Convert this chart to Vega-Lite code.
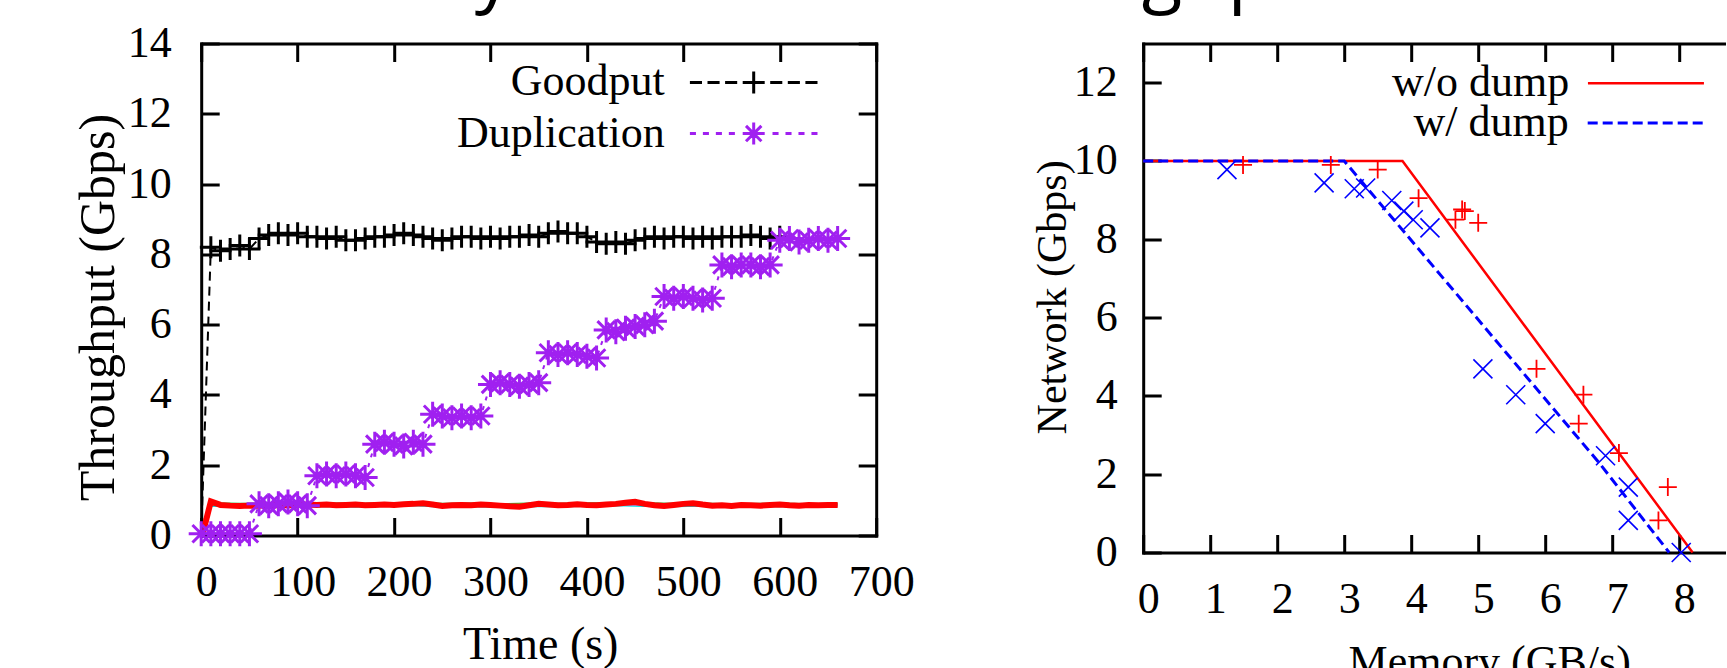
{
  "$schema": "https://vega.github.io/schema/vega-lite/v6.json",
  "autosize": {"type": "pad"},
  "padding": {"left": 72.2, "top": -62.5, "right": -1.4, "bottom": -17.7},
  "background": "white",
  "title": {"text": "Memory vs. network throughput", "font": "Open Sans", "fontSize": 74.5, "fontWeight": "normal", "color": "black", "anchor": "start", "frame": "group", "baseline": "alphabetic", "offset": -51.3, "dx": 20.5},
  "config": {
    "view": {"stroke": null},
    "axis": {"grid": false, "labelFont": "Liberation Serif", "titleFont": "Liberation Serif", "labelFontSize": 44, "titleFontSize": 44, "labelColor": "black", "titleColor": "black", "titleFontWeight": "normal", "domainColor": "black", "domainWidth": 3, "domainCap": "square", "tickColor": "black", "tickWidth": 3, "tickSize": -18, "labelFlush": false, "labelOverlap": false},
    "legend": {"labelFont": "Liberation Serif", "labelFontSize": 44, "labelColor": "black", "padding": 0, "rowPadding": 0, "labelLimit": 0}
  },
  "datasets": {
    "under": [
      {"s":"a","t":2,"v":0.1},{"s":"a","t":10,"v":0.92},{"s":"a","t":40,"v":0.9},{"s":"a","t":70,"v":0.91},{"s":"a","t":100,"v":0.9},{"s":"a","t":130,"v":0.92},{"s":"a","t":160,"v":0.9},{"s":"a","t":190,"v":0.91},{"s":"a","t":220,"v":0.93},{"s":"a","t":250,"v":0.9},{"s":"a","t":280,"v":0.91},{"s":"a","t":310,"v":0.89},{"s":"a","t":340,"v":0.91},{"s":"a","t":370,"v":0.9},{"s":"a","t":400,"v":0.92},{"s":"a","t":430,"v":0.92},{"s":"a","t":460,"v":0.92},{"s":"a","t":490,"v":0.9},{"s":"a","t":520,"v":0.91},{"s":"a","t":550,"v":0.89},{"s":"a","t":580,"v":0.9},{"s":"a","t":610,"v":0.9},{"s":"a","t":640,"v":0.89},{"s":"a","t":660,"v":0.9},
      {"s":"b","t":2,"v":0.08},{"s":"b","t":10,"v":0.85},{"s":"b","t":40,"v":0.82},{"s":"b","t":70,"v":0.83},{"s":"b","t":100,"v":0.84},{"s":"b","t":130,"v":0.83},{"s":"b","t":160,"v":0.82},{"s":"b","t":190,"v":0.84},{"s":"b","t":220,"v":0.86},{"s":"b","t":250,"v":0.82},{"s":"b","t":280,"v":0.83},{"s":"b","t":310,"v":0.81},{"s":"b","t":340,"v":0.84},{"s":"b","t":370,"v":0.83},{"s":"b","t":400,"v":0.84},{"s":"b","t":430,"v":0.86},{"s":"b","t":460,"v":0.84},{"s":"b","t":490,"v":0.83},{"s":"b","t":520,"v":0.85},{"s":"b","t":550,"v":0.82},{"s":"b","t":580,"v":0.83},{"s":"b","t":610,"v":0.84},{"s":"b","t":640,"v":0.82},{"s":"b","t":660,"v":0.83},
      {"s":"c","t":2,"v":0.1},{"s":"c","t":10,"v":0.9},{"s":"c","t":40,"v":0.86},{"s":"c","t":70,"v":0.88},{"s":"c","t":100,"v":0.87},{"s":"c","t":130,"v":0.89},{"s":"c","t":160,"v":0.86},{"s":"c","t":190,"v":0.88},{"s":"c","t":220,"v":0.9},{"s":"c","t":250,"v":0.85},{"s":"c","t":280,"v":0.87},{"s":"c","t":310,"v":0.86},{"s":"c","t":340,"v":0.88},{"s":"c","t":370,"v":0.87},{"s":"c","t":400,"v":0.89},{"s":"c","t":430,"v":0.9},{"s":"c","t":460,"v":0.88},{"s":"c","t":490,"v":0.87},{"s":"c","t":520,"v":0.89},{"s":"c","t":550,"v":0.86},{"s":"c","t":580,"v":0.87},{"s":"c","t":610,"v":0.88},{"s":"c","t":640,"v":0.87},{"s":"c","t":660,"v":0.87},
      {"s":"d","t":2,"v":0.12},{"s":"d","t":10,"v":0.88},{"s":"d","t":40,"v":0.85},{"s":"d","t":70,"v":0.86},{"s":"d","t":100,"v":0.88},{"s":"d","t":130,"v":0.86},{"s":"d","t":160,"v":0.87},{"s":"d","t":190,"v":0.86},{"s":"d","t":220,"v":0.89},{"s":"d","t":250,"v":0.86},{"s":"d","t":280,"v":0.88},{"s":"d","t":310,"v":0.85},{"s":"d","t":340,"v":0.87},{"s":"d","t":370,"v":0.86},{"s":"d","t":400,"v":0.88},{"s":"d","t":430,"v":0.89},{"s":"d","t":460,"v":0.87},{"s":"d","t":490,"v":0.86},{"s":"d","t":520,"v":0.88},{"s":"d","t":550,"v":0.85},{"s":"d","t":580,"v":0.86},{"s":"d","t":610,"v":0.87},{"s":"d","t":640,"v":0.86},{"s":"d","t":660,"v":0.86},
      {"s":"e","t":2,"v":0.05},{"s":"e","t":10,"v":0.86},{"s":"e","t":40,"v":0.88},{"s":"e","t":70,"v":0.87},{"s":"e","t":100,"v":0.86},{"s":"e","t":130,"v":0.88},{"s":"e","t":160,"v":0.87},{"s":"e","t":190,"v":0.89},{"s":"e","t":220,"v":0.88},{"s":"e","t":250,"v":0.87},{"s":"e","t":280,"v":0.86},{"s":"e","t":310,"v":0.88},{"s":"e","t":340,"v":0.86},{"s":"e","t":370,"v":0.88},{"s":"e","t":400,"v":0.87},{"s":"e","t":430,"v":0.88},{"s":"e","t":460,"v":0.89},{"s":"e","t":490,"v":0.88},{"s":"e","t":520,"v":0.87},{"s":"e","t":550,"v":0.88},{"s":"e","t":580,"v":0.87},{"s":"e","t":610,"v":0.86},{"s":"e","t":640,"v":0.88},{"s":"e","t":660,"v":0.88}
    ],
    "red": [
      {"t":2,"v":0.1},{"t":10,"v":0.97},{"t":20,"v":0.87},{"t":30,"v":0.85},{"t":40,"v":0.84},{"t":50,"v":0.85},{"t":60,"v":0.85},{"t":70,"v":0.86},{"t":80,"v":0.87},{"t":90,"v":0.86},{"t":100,"v":0.87},{"t":110,"v":0.88},{"t":120,"v":0.87},{"t":130,"v":0.88},{"t":140,"v":0.86},{"t":150,"v":0.87},{"t":160,"v":0.88},{"t":170,"v":0.86},{"t":180,"v":0.87},{"t":190,"v":0.88},{"t":200,"v":0.87},{"t":210,"v":0.89},{"t":220,"v":0.9},{"t":230,"v":0.92},{"t":240,"v":0.88},{"t":250,"v":0.84},{"t":260,"v":0.86},{"t":270,"v":0.87},{"t":280,"v":0.86},{"t":290,"v":0.88},{"t":300,"v":0.87},{"t":310,"v":0.85},{"t":320,"v":0.83},{"t":330,"v":0.82},{"t":340,"v":0.86},{"t":350,"v":0.9},{"t":360,"v":0.88},{"t":370,"v":0.86},{"t":380,"v":0.87},{"t":390,"v":0.89},{"t":400,"v":0.87},{"t":410,"v":0.86},{"t":420,"v":0.88},{"t":430,"v":0.9},{"t":440,"v":0.93},{"t":450,"v":0.96},{"t":460,"v":0.9},{"t":470,"v":0.86},{"t":480,"v":0.84},{"t":490,"v":0.87},{"t":500,"v":0.9},{"t":510,"v":0.92},{"t":520,"v":0.88},{"t":530,"v":0.85},{"t":540,"v":0.86},{"t":550,"v":0.84},{"t":560,"v":0.87},{"t":570,"v":0.86},{"t":580,"v":0.85},{"t":590,"v":0.87},{"t":600,"v":0.88},{"t":610,"v":0.86},{"t":620,"v":0.85},{"t":630,"v":0.87},{"t":640,"v":0.86},{"t":650,"v":0.87},{"t":660,"v":0.87}
    ],
    "goodput": [
      {"t":0,"v":0},{"t":10,"v":8.2},{"t":20,"v":8.1},{"t":30,"v":8.15},{"t":40,"v":8.25},{"t":50,"v":8.15},{"t":60,"v":8.45},{"t":70,"v":8.55},{"t":80,"v":8.6},{"t":90,"v":8.55},{"t":100,"v":8.6},{"t":110,"v":8.5},{"t":120,"v":8.5},{"t":130,"v":8.45},{"t":140,"v":8.5},{"t":150,"v":8.4},{"t":160,"v":8.4},{"t":170,"v":8.45},{"t":180,"v":8.5},{"t":190,"v":8.5},{"t":200,"v":8.55},{"t":210,"v":8.6},{"t":220,"v":8.55},{"t":230,"v":8.5},{"t":240,"v":8.45},{"t":250,"v":8.4},{"t":260,"v":8.45},{"t":270,"v":8.5},{"t":280,"v":8.5},{"t":290,"v":8.45},{"t":300,"v":8.5},{"t":310,"v":8.45},{"t":320,"v":8.5},{"t":330,"v":8.5},{"t":340,"v":8.55},{"t":350,"v":8.5},{"t":360,"v":8.6},{"t":370,"v":8.65},{"t":380,"v":8.6},{"t":390,"v":8.6},{"t":400,"v":8.5},{"t":410,"v":8.35},{"t":420,"v":8.3},{"t":430,"v":8.35},{"t":440,"v":8.3},{"t":450,"v":8.4},{"t":460,"v":8.45},{"t":470,"v":8.5},{"t":480,"v":8.45},{"t":490,"v":8.5},{"t":500,"v":8.5},{"t":510,"v":8.45},{"t":520,"v":8.5},{"t":530,"v":8.45},{"t":540,"v":8.5},{"t":550,"v":8.5},{"t":560,"v":8.5},{"t":570,"v":8.55},{"t":580,"v":8.5},{"t":590,"v":8.45},{"t":600,"v":8.5}
    ],
    "dup": [
      {"t":0,"v":0.05},{"t":10,"v":0.05},{"t":20,"v":0.05},{"t":30,"v":0.05},{"t":40,"v":0.05},{"t":50,"v":0.05},
      {"t":60,"v":0.9},{"t":70,"v":0.85},{"t":80,"v":0.9},{"t":90,"v":0.95},{"t":100,"v":0.9},{"t":110,"v":0.85},
      {"t":120,"v":1.7},{"t":130,"v":1.75},{"t":140,"v":1.7},{"t":150,"v":1.75},{"t":160,"v":1.7},{"t":170,"v":1.65},
      {"t":180,"v":2.6},{"t":190,"v":2.65},{"t":200,"v":2.6},{"t":210,"v":2.55},{"t":220,"v":2.65},{"t":230,"v":2.6},
      {"t":240,"v":3.45},{"t":250,"v":3.4},{"t":260,"v":3.35},{"t":270,"v":3.4},{"t":280,"v":3.35},{"t":290,"v":3.4},
      {"t":300,"v":4.3},{"t":310,"v":4.35},{"t":320,"v":4.3},{"t":330,"v":4.25},{"t":340,"v":4.3},{"t":350,"v":4.35},
      {"t":360,"v":5.2},{"t":370,"v":5.15},{"t":380,"v":5.2},{"t":390,"v":5.15},{"t":400,"v":5.1},{"t":410,"v":5.05},
      {"t":420,"v":5.85},{"t":430,"v":5.8},{"t":440,"v":5.9},{"t":450,"v":5.95},{"t":460,"v":6.0},{"t":470,"v":6.1},
      {"t":480,"v":6.8},{"t":490,"v":6.75},{"t":500,"v":6.8},{"t":510,"v":6.75},{"t":520,"v":6.7},{"t":530,"v":6.75},
      {"t":540,"v":7.7},{"t":550,"v":7.65},{"t":560,"v":7.7},{"t":570,"v":7.7},{"t":580,"v":7.65},{"t":590,"v":7.7},
      {"t":600,"v":8.4},{"t":610,"v":8.45},{"t":620,"v":8.35},{"t":630,"v":8.4},{"t":640,"v":8.45},{"t":650,"v":8.4},{"t":660,"v":8.45}
    ],
    "wo_line": [{"m":0,"n":10},{"m":3.87,"n":10},{"m":8.2,"n":0}],
    "w_line": [{"m":0,"n":10},{"m":3.0,"n":10},{"m":6.8,"n":2.3},{"m":7.85,"n":0}],
    "wo_pts": [
      {"m":1.49,"n":9.9},{"m":2.8,"n":9.9},{"m":3.5,"n":9.78},{"m":4.11,"n":9.05},{"m":4.66,"n":8.5},{"m":4.76,"n":8.76},{"m":4.8,"n":8.72},{"m":5.0,"n":8.42},{"m":5.87,"n":4.69},{"m":6.57,"n":4.03},{"m":6.5,"n":3.29},{"m":7.1,"n":2.54},{"m":7.83,"n":1.67},{"m":7.69,"n":0.82}
    ],
    "w_pts": [
      {"m":1.25,"n":9.78},{"m":2.7,"n":9.44},{"m":3.15,"n":9.29},{"m":3.32,"n":9.31},{"m":3.71,"n":8.99},{"m":3.89,"n":8.72},{"m":4.03,"n":8.5},{"m":4.28,"n":8.29},{"m":5.07,"n":4.69},{"m":5.56,"n":4.03},{"m":6.0,"n":3.29},{"m":6.9,"n":2.47},{"m":7.24,"n":1.67},{"m":7.24,"n":0.82},{"m":8.03,"n":0.0}
    ]
  },
  "bounds": "flush",
  "spacing": 267,
  "hconcat": [
    {
      "width": 675,
      "height": 492,
      "resolve": {"scale": {"color": "independent"}},
      "layer": [
        {
          "data": {"name": "under"},
          "mark": {"type": "line", "strokeWidth": 2},
          "encoding": {
            "x": {"field": "t", "type": "quantitative", "scale": {"domain": [0, 700], "nice": false, "zero": false},
                  "axis": {"orient": "bottom", "values": [0,100,200,300,400,500,600,700], "title": "Time (s)", "titleFontSize": 46, "labelPadding": 43, "labelOffset": 5, "titleX": 339, "titleY": 123, "titleBaseline": "alphabetic"}},
            "y": {"field": "v", "type": "quantitative", "scale": {"domain": [0, 14], "nice": false, "zero": false},
                  "axis": {"orient": "left", "values": [0,2,4,6,8,10,12,14], "title": "Throughput (Gbps)", "titleFontSize": 50, "labelPadding": 48, "titleX": -103, "titleY": 263.5, "titleBaseline": "middle", "titleAngle": -90}},
            "color": {"field": "s", "type": "nominal", "scale": {"domain": ["a","b","c","d","e"], "range": ["#1FB030","#00E0E8","#F5D800","#FF30FF","#8A8A8A"]}, "legend": null}
          }
        },
        {
          "data": {"name": "red"},
          "mark": {"type": "line", "strokeWidth": 6, "color": "#FF0000"},
          "encoding": {
            "x": {"field": "t", "type": "quantitative", "axis": null},
            "y": {"field": "v", "type": "quantitative", "axis": null}
          }
        },
        {
          "data": {"name": "goodput"},
          "mark": {"type": "line", "strokeWidth": 2, "color": "black", "strokeDash": [9, 6]},
          "encoding": {
            "x": {"field": "t", "type": "quantitative", "axis": {"orient": "top", "values": [0,100,200,300,400,500,600,700], "labels": false, "title": null}},
            "y": {"field": "v", "type": "quantitative", "axis": {"orient": "right", "values": [0,2,4,6,8,10,12,14], "labels": false, "title": null}}
          }
        },
        {
          "data": {"name": "goodput"},
          "transform": [{"filter": "datum.t > 0"}],
          "mark": {"type": "point", "shape": "M-1,0H1M0,-1V1", "size": 484, "strokeWidth": 3, "filled": false, "opacity": 1},
          "encoding": {
            "x": {"field": "t", "type": "quantitative", "axis": null},
            "y": {"field": "v", "type": "quantitative", "axis": null},
            "color": {"datum": "Goodput", "type": "nominal", "scale": {"range": ["black"]},
                      "legend": {"orient": "none", "legendX": 530.5, "legendY": 17, "title": null, "symbolSize": 484, "symbolStrokeWidth": 3,
                                 "symbolType": "M-5.8,0H-4.7M-4.2,0H-3.1M-2.6,0H-1.5M-1,0H1M0,-1V1M1.5,0H2.6M3.1,0H4.2M4.7,0H5.8",
                                 "labelAlign": "right", "labelOffset": -111}}
          }
        },
        {
          "data": {"name": "dup"},
          "mark": {"type": "line", "strokeWidth": 2, "color": "#A020F0", "strokeDash": [4, 6]},
          "encoding": {
            "x": {"field": "t", "type": "quantitative", "axis": null},
            "y": {"field": "v", "type": "quantitative", "axis": null}
          }
        },
        {
          "data": {"name": "dup"},
          "mark": {"type": "point", "shape": "M-1,0H1M0,-1V1M-0.7,-0.7L0.7,0.7M-0.7,0.7L0.7,-0.7", "size": 625, "strokeWidth": 3, "filled": false, "opacity": 1},
          "encoding": {
            "x": {"field": "t", "type": "quantitative", "axis": null},
            "y": {"field": "v", "type": "quantitative", "axis": null},
            "color": {"datum": "Duplication", "type": "nominal", "scale": {"range": ["#A020F0"]},
                      "legend": {"orient": "none", "legendX": 530.5, "legendY": 68.1, "title": null, "symbolSize": 484, "symbolStrokeWidth": 3,
                                 "symbolType": "M-5.8,0H-5.25M-4.62,0H-4.07M-3.44,0H-2.89M-2.26,0H-1.71M-1,0H1M0,-1V1M-0.7,-0.7L0.7,0.7M-0.7,0.7L0.7,-0.7M1.71,0H2.26M2.89,0H3.44M4.07,0H4.62M5.25,0H5.8",
                                 "labelAlign": "right", "labelOffset": -111}}
          }
        }
      ]
    },
    {
      "width": 584,
      "height": 509,
      "resolve": {"scale": {"color": "independent"}, "axis": {"x": "independent", "y": "independent"}},
      "layer": [
        {
          "data": {"name": "wo_line"},
          "mark": {"type": "line", "strokeWidth": 2.5},
          "encoding": {
            "x": {"field": "m", "type": "quantitative", "scale": {"domain": [0, 8.716], "nice": false, "zero": false},
                  "axis": {"orient": "bottom", "values": [0,1,2,3,4,5,6,7,8], "title": "Memory (GB/s)", "labelPadding": 43, "labelOffset": 5, "titleX": 346, "titleY": 123.5, "titleBaseline": "alphabetic"}},
            "y": {"field": "n", "type": "quantitative", "scale": {"domain": [0, 13], "nice": false, "zero": false},
                  "axis": {"orient": "left", "values": [0,2,4,6,8,10,12], "title": "Network (Gbps)", "titleFontSize": 42, "labelPadding": 44, "titleX": -91, "titleY": 253.4, "titleBaseline": "middle", "titleAngle": -90}},
            "color": {"datum": "w/o dump", "type": "nominal", "scale": {"range": ["#FF0000"]},
                      "legend": {"orient": "none", "legendX": 480.75, "legendY": 17.75, "title": null, "symbolSize": 400, "symbolStrokeWidth": 2.5,
                                 "symbolType": "M-5.8,0H5.8", "labelAlign": "right", "labelOffset": -98.75}}
          }
        },
        {
          "data": {"name": "w_line"},
          "mark": {"type": "line", "strokeWidth": 3, "strokeDash": [10, 5]},
          "encoding": {
            "x": {"field": "m", "type": "quantitative", "axis": {"orient": "top", "values": [0,1,2,3,4,5,6,7,8], "labels": false, "title": null}},
            "y": {"field": "n", "type": "quantitative", "axis": null},
            "color": {"datum": "w/ dump", "type": "nominal", "scale": {"range": ["#0000FF"]},
                      "legend": {"orient": "none", "legendX": 480.5, "legendY": 57.5, "title": null, "symbolSize": 400, "symbolStrokeWidth": 3,
                                 "symbolType": "M-5.8,0H5.8", "symbolDash": [10, 5], "labelAlign": "right", "labelOffset": -99}}
          }
        },
        {
          "data": {"name": "wo_pts"},
          "mark": {"type": "point", "shape": "M-1,0H1M0,-1V1", "size": 324, "strokeWidth": 1.8, "filled": false, "color": "#FF0000", "opacity": 1},
          "encoding": {
            "x": {"field": "m", "type": "quantitative", "axis": null},
            "y": {"field": "n", "type": "quantitative", "axis": null}
          }
        },
        {
          "data": {"name": "w_pts"},
          "mark": {"type": "point", "shape": "M-1,-1L1,1M-1,1L1,-1", "size": 361, "strokeWidth": 1.6, "filled": false, "color": "#0000FF", "opacity": 1},
          "encoding": {
            "x": {"field": "m", "type": "quantitative", "axis": null},
            "y": {"field": "n", "type": "quantitative", "axis": null}
          }
        }
      ]
    }
  ]
}
